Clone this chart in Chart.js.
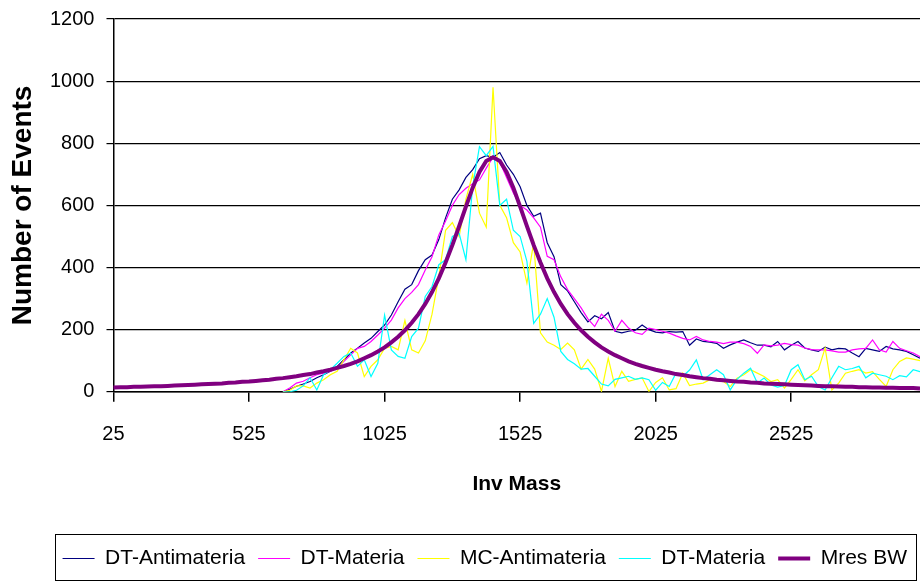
<!DOCTYPE html>
<html>
<head>
<meta charset="utf-8">
<script src="https://cdn.jsdelivr.net/npm/chart.js@4.4.0/dist/chart.umd.min.js"></script>
<style>
  html, body { margin: 0; padding: 0; background: #fff; }
</style>
</head>
<body>
<canvas id="grafica" width="920" height="582"></canvas>
<script>
// Categorias del eje X (masa invariante, cada 25)
const masas = [
  25, 50, 75, 100, 125, 150, 175, 200, 225, 250, 275, 300, 325, 350, 375, 400, 425, 450, 475, 500,
  525, 550, 575, 600, 625, 650, 675, 700, 725, 750, 775, 800, 825, 850, 875, 900, 925, 950, 975, 1000,
  1025, 1050, 1075, 1100, 1125, 1150, 1175, 1200, 1225, 1250, 1275, 1300, 1325, 1350, 1375, 1400, 1425, 1450, 1475, 1500,
  1525, 1550, 1575, 1600, 1625, 1650, 1675, 1700, 1725, 1750, 1775, 1800, 1825, 1850, 1875, 1900, 1925, 1950, 1975, 2000,
  2025, 2050, 2075, 2100, 2125, 2150, 2175, 2200, 2225, 2250, 2275, 2300, 2325, 2350, 2375, 2400, 2425, 2450, 2475, 2500,
  2525, 2550, 2575, 2600, 2625, 2650, 2675, 2700, 2725, 2750, 2775, 2800, 2825, 2850, 2875, 2900, 2925, 2950, 2975, 3000
];

// Series (numero de eventos por categoria)
const dtAntimateria = [
  null, null, null, null, null, null, null, null, null, null, null, null, null, null, null, null, null, null, null, null, null, null, null, null, null,
  0, 8, 18, 25, 33, 45, 55, 66, 82, 103,
  125, 140, 157, 172, 194, 215, 247, 290, 330, 345,
  390, 425, 440, 490, 560, 620, 650, 690, 715, 750,
  760, 755, 770, 730, 700, 660, 600, 565, 575, 480,
  435, 345, 325, 290, 255, 225, 245, 235, 255, 195,
  190, 195, 198, 215, 200, 192, 190, 194, 192, 194,
  150, 170, 162, 160, 156, 140, 151, 160, 167, 158,
  150, 150, 145, 162, 135, 150, 162, 141, 135, 130,
  144, 135, 140, 138, 125, 113, 140, 135, 130, 146,
  138, 135, 130, 119, 108
];

const dtMateria = [
  null, null, null, null, null, null, null, null, null, null, null, null, null, null, null, null, null, null, null, null, null, null, null, null, null,
  0, 12, 28, 34, 45, 55, 60, 66, 77, 98,
  119, 140, 146, 162, 183, 205, 231, 270, 300, 320,
  345, 392, 435, 505, 550, 600, 635, 655, 670, 682,
  720, 755, 740, 690, 640, 600, 585, 560, 530, 436,
  425, 370, 329, 300, 270, 235, 210, 250, 230, 195,
  230, 205, 190, 185, 205, 200, 195, 189, 180, 172,
  167, 178, 167, 162, 160, 155, 160, 160, 155, 146,
  124, 151, 148, 150, 156, 152, 150, 141, 136, 135,
  135, 132, 128, 128, 135, 138, 140, 167, 135, 128,
  162, 140, 132, 125, 113
];

const mcAntimateria = [
  null, null, null, null, null, null, null, null, null, null, null, null, null, null, null, null, null, null, null, null, null, null, null, null, null,
  0, 5, 19, 19, 12, 28, 39, 55, 66, 103,
  140, 125, 49, 82, 103, 140, 146, 135, 230, 135,
  125, 164, 250, 371, 520, 545, 500, 620, 700, 575,
  530, 980, 600, 560, 480, 450, 350, 480, 190, 160,
  150, 136, 157, 135, 73, 104, 73, 1, 108, 17,
  66, 34, 40, 45, 1, 30, 45, 6, 10, 60,
  20, 25, 28, 39, 36, 33, 17, 44, 55, 71,
  60, 49, 33, 39, 12, 40, 71, 35, 55, 71,
  141, 6, 28, 60, 66, 71, 60, 65, 40, 17,
  71, 98, 109, 105, 100
];

const dtMateria2 = [
  null, null, null, null, null, null, null, null, null, null, null, null, null, null, null, null, null, null, null, null, null, null, null, null, null,
  0, 0, 5, 19, 45, 6, 55, 71, 92, 114,
  125, 82, 103, 49, 92, 247, 135, 114, 108, 178,
  205, 307, 339, 409, 425, 500, 510, 425, 661, 789,
  760, 790, 600, 620, 520, 500, 420, 220, 250, 300,
  240, 130, 104, 90, 73, 75, 50, 25, 19, 40,
  45, 50, 40, 45, 39, 5, 30, 17, 60, 50,
  70, 103, 39, 55, 71, 55, 6, 40, 60, 76,
  28, 44, 22, 15, 20, 71, 87, 39, 50, 17,
  6, 45, 82, 71, 75, 82, 45, 60, 55, 50,
  39, 52, 48, 71, 65
];

// Ajuste Breit-Wigner
const mresBW = [
  14, 15, 15, 16, 16, 17, 18, 18, 19, 20,
  21, 22, 23, 24, 25, 26, 27, 29, 30, 32,
  33, 35, 37, 39, 42, 44, 47, 50, 54, 57,
  62, 66, 71, 77, 83, 90, 98, 108, 118, 130,
  143, 159, 177, 198, 222, 250, 283, 321, 365, 416,
  472, 533, 596, 657, 708, 743, 755, 743, 708, 657,
  596, 533, 472, 416, 365, 321, 283, 250, 222, 198,
  177, 159, 143, 130, 118, 108, 98, 90, 83, 77,
  71, 66, 62, 57, 54, 50, 47, 44, 42, 39,
  37, 35, 33, 32, 30, 29, 27, 26, 25, 24,
  23, 22, 21, 20, 19, 18, 18, 17, 16, 16,
  15, 15, 14, 14, 13, 13, 12, 12, 12, 11
];

const yTicks = [0, 200, 400, 600, 800, 1000, 1200];

const fuente = "'Liberation Sans', Arial, sans-serif";

// Marco negro alrededor de la leyenda
const marcoLeyenda = {
  id: 'marcoLeyenda',
  afterDraw(chart) {
    const lg = chart.legend;
    if (!lg || !lg.legendHitBoxes || !lg.legendHitBoxes.length) return;
    const cajas = lg.legendHitBoxes;
    const ultima = cajas[cajas.length - 1];
    const izq = cajas[0].left - 8;
    const der = ultima.left + ultima.width + 9;
    const arriba = cajas[0].top - 14;
    const alto = cajas[0].height + 25;
    const ctx = chart.ctx;
    ctx.save();
    ctx.strokeStyle = '#000';
    ctx.lineWidth = 1;
    ctx.strokeRect(Math.round(izq) + 0.5, Math.round(arriba) + 0.5, Math.round(der - izq), Math.round(alto));
    ctx.restore();
  }
};

function serie(label, data, color, ancho, orden) {
  return {
    label: label,
    data: data,
    borderColor: color,
    backgroundColor: color,
    borderWidth: ancho,
    pointRadius: 0,
    pointHoverRadius: 0,
    tension: 0,
    fill: false,
    order: orden
  };
}

const grafica = new Chart(document.getElementById('grafica'), {
  type: 'line',
  data: {
    labels: masas,
    datasets: [
      serie('DT-Antimateria', dtAntimateria, '#000080', 1.2, 5),
      serie('DT-Materia', dtMateria, '#FF00FF', 1.2, 4),
      serie('MC-Antimateria', mcAntimateria, '#FFFF00', 1.2, 3),
      serie('DT-Materia', dtMateria2, '#00FFFF', 1.2, 2),
      serie('Mres BW', mresBW, '#800080', 4, 1)
    ]
  },
  options: {
    responsive: false,
    animation: false,
    layout: { autoPadding: false, padding: { left: 9, top: 9, right: 0, bottom: 3 } },
    plugins: {
      tooltip: { enabled: false },
      legend: {
        position: 'bottom',
        align: 'end',
        labels: {
          usePointStyle: true,
          pointStyle: 'line',
          pointStyleWidth: 32,
          padding: 13,
          color: '#000',
          font: { family: fuente, size: 21 },
          generateLabels: (chart) => {
            const items = Chart.defaults.plugins.legend.labels.generateLabels(chart);
            items.forEach((it) => {
              const ds = chart.data.datasets[it.datasetIndex];
              it.strokeStyle = ds.borderColor;
              it.fillStyle = ds.borderColor;
              it.lineWidth = ds.borderWidth;
              it.pointStyle = 'line';
            });
            return items;
          },
          sort: (a, b) => a.datasetIndex - b.datasetIndex
        }
      }
    },
    scales: {
      x: {
        type: 'category',
        offset: false,
        border: { color: '#000', width: 1.5 },
        grid: {
          drawOnChartArea: false,
          drawTicks: true,
          tickLength: 10,
          lineWidth: 1.5,
          color: (ctx) => (ctx.index % 20 === 0 ? '#000' : 'rgba(0,0,0,0)')
        },
        ticks: {
          autoSkip: false,
          maxRotation: 0,
          minRotation: 0,
          padding: 0,
          color: '#000',
          font: { family: fuente, size: 20, lineHeight: 1.1 },
          // linea en blanco arriba para separar la etiqueta de la marca
          callback: (v, i) => (i % 20 === 0 ? ['', String(masas[i])] : '')
        },
        title: {
          display: true,
          text: 'Inv Mass',
          color: '#000',
          font: { family: fuente, size: 21, weight: 'bold' },
          padding: { top: 26, bottom: 38 }
        }
      },
      y: {
        min: 0,
        max: 1200,
        border: { color: '#000', width: 1.5 },
        grid: { color: '#000', lineWidth: 1.2, tickLength: 7 },
        afterBuildTicks: (escala) => { escala.ticks = yTicks.map(v => ({ value: v })); },
        ticks: {
          padding: 12,
          color: '#000',
          font: { family: fuente, size: 20, lineHeight: 0.7 },
          callback: (v) => String(v)
        },
        title: {
          display: true,
          text: 'Number of Events',
          color: '#000',
          font: { family: fuente, size: 28, weight: 'bold', lineHeight: 1.0 },
          padding: { top: 0, bottom: 1 }
        }
      }
    }
  },
  plugins: [marcoLeyenda]
});
</script>
</body>
</html>
